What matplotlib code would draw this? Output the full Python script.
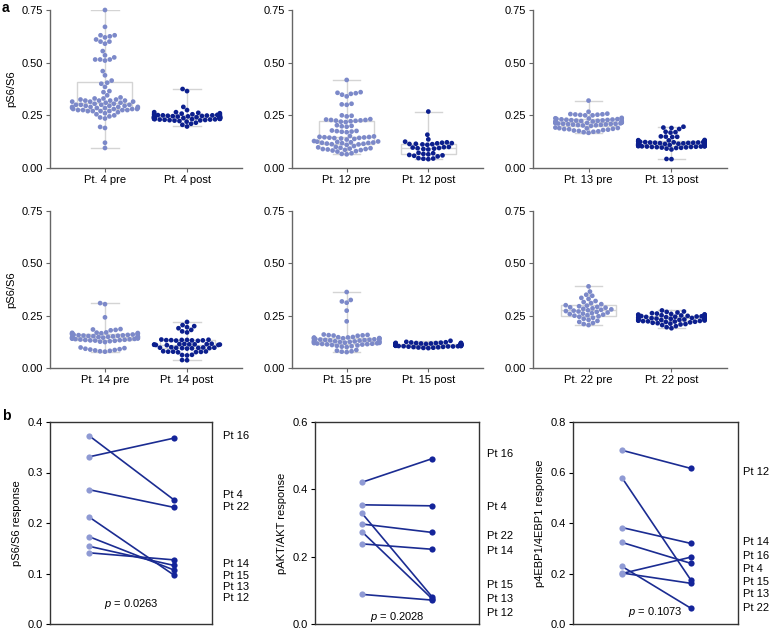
import warnings
import numpy as np
import pandas as pd
import matplotlib
matplotlib.use('Agg')
import matplotlib.pyplot as plt
import matplotlib.transforms as mtransforms
import seaborn as sns

warnings.filterwarnings('ignore')

# ---------------- data: panel a (pS6/S6 per cell) ----------------

pt4_pre = [0.75, 0.67, 0.63, 0.63, 0.625, 0.62, 0.61, 0.60, 0.60, 0.59, 0.555, 0.535, 0.525,
           0.515, 0.515, 0.515, 0.51, 0.46, 0.44,
           0.415, 0.405, 0.40, 0.385, 0.365, 0.36, 0.345, 0.335, 0.33, 0.33, 0.325, 0.325,
           0.32, 0.32, 0.32, 0.32, 0.315, 0.315, 0.315, 0.31,
           0.31, 0.305, 0.305, 0.30, 0.30, 0.30, 0.30, 0.295, 0.295, 0.295, 0.29, 0.29, 0.29,
           0.29, 0.285, 0.285, 0.285, 0.285, 0.28, 0.28,
           0.28, 0.28, 0.275, 0.275, 0.275, 0.275, 0.27, 0.27, 0.27, 0.27, 0.265, 0.26, 0.255,
           0.25, 0.245, 0.24, 0.235, 0.195, 0.19, 0.12, 0.095]
pt4_post = [0.375, 0.365, 0.29, 0.275, 0.265, 0.265,
            0.262, 0.26, 0.258, 0.257, 0.255, 0.254, 0.253, 0.252, 0.251, 0.25,
            0.25, 0.249, 0.248, 0.248, 0.247, 0.246, 0.246, 0.245, 0.245, 0.244,
            0.244, 0.243, 0.243, 0.242, 0.242, 0.241, 0.241, 0.24, 0.24, 0.24,
            0.239, 0.239, 0.238, 0.238, 0.237, 0.237, 0.236, 0.236, 0.235, 0.235,
            0.234, 0.234, 0.233, 0.233, 0.232, 0.232, 0.231, 0.23, 0.23, 0.229,
            0.228, 0.227, 0.226, 0.225, 0.223, 0.22, 0.215, 0.21, 0.205, 0.197]
pt12_pre = [0.418, 0.36, 0.357, 0.355, 0.352, 0.348, 0.34, 0.305, 0.302, 0.30, 0.25, 0.248, 0.245,
            0.232, 0.23, 0.228, 0.228, 0.226, 0.225, 0.224, 0.222, 0.22, 0.218,
            0.203, 0.2, 0.198, 0.196,
            0.178, 0.176, 0.175, 0.173, 0.172, 0.17,
            0.152, 0.15, 0.148, 0.147, 0.146, 0.145, 0.144, 0.143, 0.142, 0.14, 0.138, 0.135,
            0.128, 0.126, 0.125, 0.124, 0.122, 0.121, 0.12, 0.119, 0.118, 0.116, 0.115, 0.113,
            0.112, 0.11,
            0.104, 0.1, 0.098, 0.096, 0.094, 0.092, 0.09, 0.09, 0.088, 0.086, 0.085, 0.083,
            0.08, 0.078, 0.07, 0.067, 0.065]
pt12_post = [0.268, 0.158, 0.136, 0.125, 0.122, 0.12, 0.118, 0.117, 0.115, 0.114, 0.113, 0.112,
             0.11, 0.1, 0.099, 0.097, 0.095, 0.094, 0.092, 0.09, 0.088,
             0.072, 0.07, 0.067, 0.065, 0.062, 0.06, 0.058, 0.055,
             0.047, 0.045, 0.044, 0.042]
pt13_pre = [0.32, 0.267, 0.258, 0.256, 0.255, 0.254, 0.253, 0.252, 0.25, 0.25,
            0.238, 0.236, 0.235, 0.234, 0.233, 0.232, 0.231, 0.23, 0.229, 0.228, 0.227, 0.226,
            0.225, 0.224, 0.223, 0.222, 0.221, 0.22, 0.219, 0.218, 0.217, 0.216, 0.215, 0.214,
            0.213, 0.212, 0.211, 0.21, 0.21, 0.209, 0.208, 0.207, 0.206, 0.205, 0.204, 0.203,
            0.202, 0.2,
            0.192, 0.19, 0.189, 0.188, 0.186, 0.185, 0.184, 0.182, 0.18, 0.178, 0.176, 0.174,
            0.172, 0.17, 0.167]
pt13_post = [0.196, 0.192, 0.19, 0.185, 0.172, 0.17, 0.168, 0.15, 0.149, 0.148, 0.147,
             0.133, 0.132, 0.131, 0.13, 0.129, 0.128, 0.127, 0.127, 0.126, 0.125, 0.125, 0.124,
             0.123, 0.123, 0.122, 0.121, 0.121, 0.12, 0.12, 0.119, 0.118, 0.118, 0.117, 0.117,
             0.116, 0.115, 0.115, 0.114, 0.114, 0.113, 0.113, 0.112, 0.112, 0.111, 0.111, 0.11,
             0.11, 0.109, 0.109, 0.108, 0.108, 0.107, 0.107, 0.106, 0.106, 0.105, 0.105, 0.104,
             0.104, 0.103, 0.103, 0.102, 0.102, 0.101, 0.1, 0.1, 0.099, 0.098, 0.097, 0.096,
             0.095, 0.092, 0.088, 0.043, 0.042]
pt14_pre = [0.31, 0.305, 0.242, 0.186, 0.184, 0.182, 0.18,
            0.17, 0.169, 0.168, 0.167, 0.166, 0.165, 0.164, 0.163, 0.162, 0.161, 0.16, 0.159,
            0.158, 0.157, 0.156, 0.155, 0.154, 0.153, 0.152, 0.151, 0.15, 0.15, 0.149, 0.148,
            0.147, 0.146, 0.145, 0.144, 0.143, 0.142, 0.141, 0.14, 0.139, 0.138, 0.137, 0.136,
            0.135, 0.134, 0.133, 0.132, 0.131, 0.13, 0.128, 0.126, 0.124,
            0.098, 0.095, 0.092, 0.09, 0.088, 0.086, 0.084, 0.082, 0.08, 0.078]
pt14_post = [0.22, 0.205, 0.2, 0.195, 0.19, 0.182, 0.175, 0.17,
             0.136, 0.135, 0.134, 0.134, 0.133, 0.133, 0.132, 0.132, 0.131, 0.13,
             0.116, 0.115, 0.114, 0.114, 0.113, 0.113, 0.112, 0.112, 0.111, 0.11, 0.11, 0.109,
             0.099, 0.098, 0.097, 0.097, 0.096, 0.096, 0.095, 0.095, 0.094, 0.093,
             0.08, 0.079, 0.078, 0.078, 0.077, 0.076, 0.075,
             0.063, 0.062, 0.06, 0.038, 0.037]
pt15_pre = [0.363, 0.325, 0.318, 0.312, 0.274, 0.223,
            0.16, 0.158, 0.157, 0.156, 0.155, 0.154,
            0.148, 0.147, 0.146, 0.145, 0.144, 0.143, 0.142, 0.141, 0.14, 0.139, 0.138, 0.137,
            0.136, 0.135, 0.134, 0.133, 0.132, 0.131, 0.13, 0.129, 0.128, 0.127, 0.126, 0.125,
            0.124, 0.123, 0.122, 0.121, 0.12, 0.119, 0.118, 0.117, 0.116, 0.115, 0.114, 0.113,
            0.112, 0.11, 0.108, 0.106, 0.104, 0.102, 0.1,
            0.086, 0.083, 0.08, 0.078, 0.076]
pt15_post = [0.13, 0.125, 0.123, 0.122, 0.121, 0.12, 0.12, 0.119, 0.119, 0.118, 0.118, 0.117,
             0.117, 0.116, 0.116, 0.115, 0.115, 0.115, 0.114, 0.114, 0.114, 0.113, 0.113, 0.113,
             0.112, 0.112, 0.112, 0.111, 0.111, 0.111, 0.11, 0.11, 0.11, 0.109, 0.109, 0.109,
             0.108, 0.108, 0.108, 0.107, 0.107, 0.106, 0.106, 0.105, 0.105, 0.104, 0.104, 0.103,
             0.103, 0.102, 0.101, 0.1, 0.099, 0.098, 0.097, 0.096, 0.095]
pt22_pre = [0.39, 0.365, 0.35, 0.345, 0.335, 0.33, 0.32, 0.315, 0.31, 0.305, 0.3, 0.298, 0.295,
            0.292, 0.29, 0.288, 0.285, 0.283, 0.28, 0.278, 0.276, 0.274, 0.272, 0.27, 0.268,
            0.265, 0.262, 0.26, 0.258, 0.255, 0.252, 0.25, 0.247, 0.245, 0.24, 0.235, 0.23,
            0.225, 0.22, 0.215, 0.21, 0.205]
pt22_post = [0.275, 0.27, 0.268, 0.265, 0.262, 0.26, 0.258, 0.256, 0.255, 0.254, 0.253, 0.252,
             0.251, 0.25, 0.249, 0.248, 0.247, 0.246, 0.245, 0.244, 0.243, 0.242, 0.241, 0.24,
             0.24, 0.239, 0.238, 0.237, 0.236, 0.235, 0.234, 0.233, 0.232, 0.231, 0.23, 0.23,
             0.229, 0.228, 0.227, 0.226, 0.225, 0.224, 0.223, 0.222, 0.221, 0.22, 0.218, 0.216,
             0.214, 0.212, 0.21, 0.208, 0.205, 0.2, 0.195, 0.19]

swarm_names = ['Pt. 4', 'Pt. 12', 'Pt. 13', 'Pt. 14', 'Pt. 15', 'Pt. 22']
swarm_pre = [pt4_pre, pt12_pre, pt13_pre, pt14_pre, pt15_pre, pt22_pre]
swarm_post = [pt4_post, pt12_post, pt13_post, pt14_post, pt15_post, pt22_post]

# ---------------- data: panel b (paired responses) ----------------

s6_patients = ['Pt 16', 'Pt 4', 'Pt 22', 'Pt 14', 'Pt 15', 'Pt 13', 'Pt 12']
s6_pre = [0.331, 0.373, 0.266, 0.141, 0.154, 0.173, 0.212]
s6_post = [0.368, 0.246, 0.231, 0.127, 0.116, 0.107, 0.097]

akt_patients = ['Pt 16', 'Pt 4', 'Pt 22', 'Pt 14', 'Pt 15', 'Pt 13', 'Pt 12']
akt_pre = [0.421, 0.354, 0.297, 0.238, 0.329, 0.274, 0.088]
akt_post = [0.491, 0.351, 0.272, 0.222, 0.081, 0.075, 0.071]

ebp_patients = ['Pt 12', 'Pt 14', 'Pt 16', 'Pt 4', 'Pt 15', 'Pt 13', 'Pt 22']
ebp_pre = [0.688, 0.382, 0.200, 0.323, 0.579, 0.202, 0.228]
ebp_post = [0.616, 0.319, 0.265, 0.240, 0.173, 0.161, 0.062]

pair_ylabels = ['pS6/S6 response', 'pAKT/AKT response', 'p4EBP1/4EBP1 response']
pair_pvalues = ['0.0263', '0.2028', '0.1073']

# ---------------- style / layout ----------------

plt.rcParams['font.family'] = ['Liberation Sans', 'DejaVu Sans']
plt.rcParams['mathtext.fontset'] = 'custom'
plt.rcParams['mathtext.it'] = 'Liberation Sans:italic'
plt.rcParams['mathtext.rm'] = 'Liberation Sans'

PRE = '#7c89c9'
POST = '#0c1f8e'
BOXC = '#d4d4d4'
LINEC = '#1b2c92'
FS = 8

W, H = 773, 629
fig = plt.figure(figsize=(W / 100, H / 100), dpi=100)


def px_axes(l, t, r, b):
    return fig.add_axes([l / W, 1 - b / H, (r - l) / W, (b - t) / H])


cols_a = [(50, 242), (292, 483), (533, 727)]
rows_a = [(10, 168), (211, 368)]

for i, name in enumerate(swarm_names):
    row, col = divmod(i, 3)
    ax = px_axes(cols_a[col][0], rows_a[row][0], cols_a[col][1], rows_a[row][1])
    pre, post = swarm_pre[i], swarm_post[i]

    ax.boxplot([pre, post], positions=[0, 1], widths=0.67, whis=(0, 100),
               showfliers=False, patch_artist=True,
               boxprops=dict(facecolor='white', edgecolor=BOXC, linewidth=1),
               whiskerprops=dict(color=BOXC, linewidth=1),
               capprops=dict(color=BOXC, linewidth=1),
               medianprops=dict(color=BOXC, linewidth=1))

    labels = [f'{name} pre', f'{name} post']
    df = pd.DataFrame({'grp': [labels[0]] * len(pre) + [labels[1]] * len(post),
                       'val': pre + post})
    sns.swarmplot(data=df, x='grp', y='val', hue='grp', order=labels, hue_order=labels,
                  palette=[PRE, POST], size=3.4, linewidth=0, legend=False, ax=ax, zorder=3)
    for c in ax.collections:
        c.set_clip_on(False)

    ax.set_xlim(-0.67, 1.67)
    ax.set_ylim(0, 0.75)
    ax.set_xticks([0, 1])
    ax.set_xticklabels(labels, fontsize=FS)
    ax.set_yticks([0, 0.25, 0.5, 0.75])
    ax.set_yticklabels(['0.00', '0.25', '0.50', '0.75'], fontsize=FS)
    ax.set_xlabel('')
    ax.set_ylabel('pS6/S6' if col == 0 else '', fontsize=FS)
    for s in ['top', 'right']:
        ax.spines[s].set_visible(False)
    for s in ['left', 'bottom']:
        ax.spines[s].set_color('#666666')
        ax.spines[s].set_linewidth(1)
    ax.tick_params(length=3, width=0.8, color='#666666', pad=2)

fig.text(2 / W, 1 - 8 / H, 'a', fontsize=10, fontweight='bold', va='center')
fig.text(2 / W, 1 - 416 / H, 'b', fontsize=10, fontweight='bold', va='center')

# panel b
pairs = [(s6_patients, s6_pre, s6_post), (akt_patients, akt_pre, akt_post),
         (ebp_patients, ebp_pre, ebp_post)]
box_b = [(50, 212), (315, 479), (573, 738)]
xlims_b = [(-0.46, 1.45), (-0.67, 1.67), (-0.71, 1.68)]
ylims_b = [(0.4, 0.1), (0.6, 0.2), (0.8, 0.2)]
label_x = [1.065, 1.05, 1.03]
label_y = [[0.372, 0.255, 0.232, 0.119, 0.096, 0.074, 0.051],
           [0.505, 0.349, 0.262, 0.218, 0.115, 0.073, 0.034],
           [0.601, 0.323, 0.271, 0.217, 0.167, 0.118, 0.065]]
p_y = [0.10, 0.035, 0.06]

for j, (patients, pre, post) in enumerate(pairs):
    ax = px_axes(box_b[j][0], 422, box_b[j][1], 624)
    for a, b in zip(pre, post):
        ax.plot([0, 1], [a, b], color=LINEC, linewidth=1.2, zorder=2)
    ax.scatter(np.zeros(len(pre)), pre, s=20, color='#8f9ad4', linewidths=0, zorder=3)
    ax.scatter(np.ones(len(post)), post, s=20, color='#14249a', linewidths=0, zorder=3)

    top, step = ylims_b[j]
    ticks = np.arange(0, top + 1e-9, step)
    ax.set_xlim(*xlims_b[j])
    ax.set_ylim(0, top)
    ax.set_yticks(ticks)
    ax.set_yticklabels([f'{v:.1f}' for v in ticks], fontsize=FS)
    ax.set_xticks([])
    ax.set_ylabel(pair_ylabels[j], fontsize=FS)
    for s in ax.spines.values():
        s.set_color('#333333')
        s.set_linewidth(1)
    ax.tick_params(length=3, width=0.8, pad=2)

    trans = mtransforms.blended_transform_factory(ax.transAxes, ax.transData)
    for name, ly in zip(patients, label_y[j]):
        ax.text(label_x[j], ly, name, transform=trans, fontsize=FS, va='center', ha='left')
    ax.text(0.5, p_y[j], r'$p$ = ' + pair_pvalues[j], transform=ax.transAxes,
            ha='center', va='center', fontsize=FS)

fig.savefig('out.png', dpi=100)
